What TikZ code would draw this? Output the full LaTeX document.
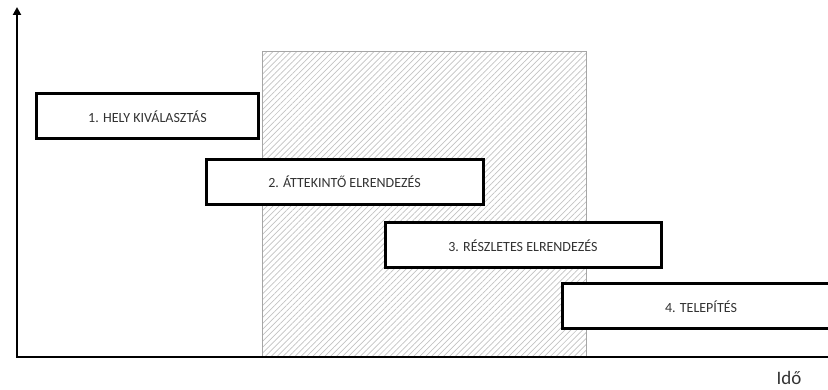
\documentclass[tikz,border=0pt]{standalone}
\usepackage{fontspec}
\setmainfont{Carlito}
\usetikzlibrary{arrows.meta,patterns.meta}
\definecolor{labelgray}{HTML}{333333}
\tikzset{
  phase/.style={draw=black, line width=3pt, fill=white, inner sep=0pt,
    minimum height=45pt, font=\fontsize{14}{16}\selectfont, text=labelgray},
  axisline/.style={line width=2.6pt, black},
}
\begin{document}
\begin{tikzpicture}[x=1pt, y=-1pt]
  \useasboundingbox (0,0) rectangle (828,390);
  \clip (0,0) rectangle (828,390);
  % shaded planning window
  \path[pattern={Lines[angle=45,distance=4.2pt,line width=0.7pt]}, pattern color=black!24]
    (262,52) rectangle (586,356);
  \draw[black!35, line width=1pt] (262,356) -- (262,52) -- (586,52) -- (586,356);
  % phase bars
  \node[phase, minimum width=222pt] (p1) at (147.5,116.5) {1. HELY KIVÁLASZTÁS};
  \node[phase, minimum width=277pt] (p2) at (344.5,182) {2. ÁTTEKINTŐ ELRENDEZÉS};
  \node[phase, minimum width=276pt] (p3) at (523,245.5) {3. RÉSZLETES ELRENDEZÉS};
  \node[phase, minimum width=278pt] (p4) at (701,306.5) {4. TELEPÍTÉS};
  % axes
  \coordinate (o) at (17,357);
  \coordinate (ytop) at (17,7);
  \coordinate (xend) at (840,357);
  \draw[axisline, line cap=rect, -{Triangle[length=8pt,width=8pt]}] (o) -- (ytop);
  \draw[axisline] (o) -- (xend);
  \node[font=\fontsize{19}{21}\selectfont, text=labelgray] (xl) at (789,378) {Idő};
\end{tikzpicture}
\end{document}
